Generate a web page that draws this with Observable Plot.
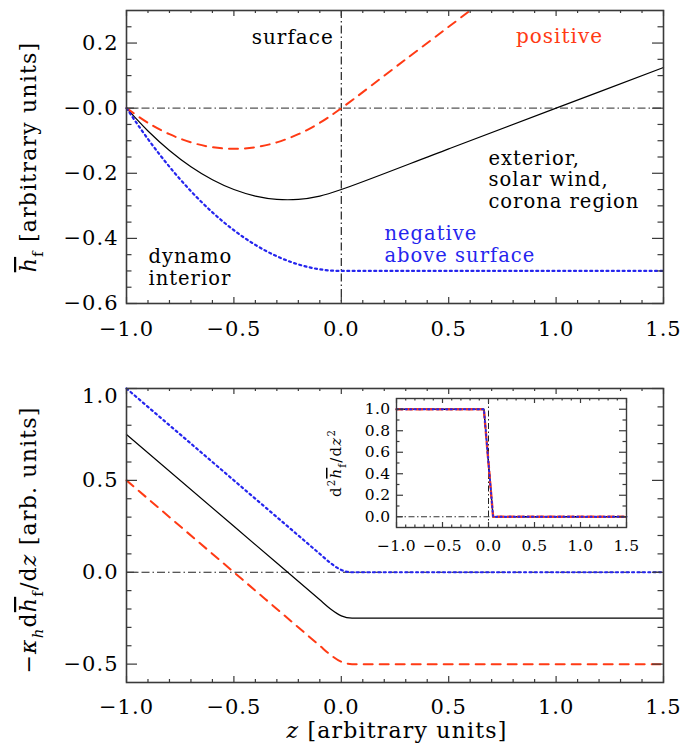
<!DOCTYPE html>
<html><head><meta charset="utf-8">
<script src="https://cdn.jsdelivr.net/npm/d3@7"></script>
<script src="https://cdn.jsdelivr.net/npm/@observablehq/plot@0.6"></script>
<style>
html,body{margin:0;padding:0;background:#fff;}
#wrap{position:relative;width:699px;height:751px;overflow:hidden;background:#fff;}
</style></head><body><div id="wrap"></div>
<script>
// ---------- data ----------
// top panel: mean magnetic helicity profile h_f(z)
const topZ      = [-1.0,-0.9,-0.8,-0.7,-0.6,-0.5,-0.4,-0.3,-0.2,-0.1,0.0,0.5,1.0,1.5];
const hBlack    = [0.0,-0.07,-0.13,-0.18,-0.22,-0.25,-0.27,-0.28,-0.28,-0.27,-0.25,-0.125,0.0,0.125];
const hBlue     = [0.0,-0.095,-0.18,-0.255,-0.32,-0.375,-0.42,-0.455,-0.48,-0.495,-0.5,-0.5,-0.5,-0.5];
const topRedZ   = [-1.0,-0.9,-0.8,-0.7,-0.6,-0.5,-0.4,-0.3,-0.2,-0.1,0.0,0.3,0.6];
const hRed      = [0.0,-0.045,-0.08,-0.105,-0.12,-0.125,-0.12,-0.105,-0.08,-0.045,0.0,0.15,0.3];
// bottom panel: flux -kappa_h dh_f/dz
const botZ      = [-1.0,-0.5,-0.1,-0.05,0.0,0.05,0.1,1.5];
const fBlack    = [0.75,0.25,-0.15,-0.2,-0.2375,-0.25,-0.25,-0.25];
const fRed      = [0.5,0.0,-0.4,-0.45,-0.4875,-0.5,-0.5,-0.5];
const fBlue     = [1.0,0.5,0.1,0.05,0.0125,0.0,0.0,0.0];
// inset: second derivative
const insZ      = [-1.0,-0.05,0.05,1.5];
const d2Black   = [1.0,1.0,0.0,0.0];
const d2Red     = [1.0,1.0,0.0,0.0];
const d2Blue    = [1.0,1.0,0.0,0.0];
// ticks
const xMajor    = [-1.0,-0.5,0.0,0.5,1.0,1.5];
const xLabels   = ["\u22121.0","\u22120.5","0.0","0.5","1.0","1.5"];
const xMinor    = [-0.9,-0.8,-0.7,-0.6,-0.4,-0.3,-0.2,-0.1,0.1,0.2,0.3,0.4,0.6,0.7,0.8,0.9,1.1,1.2,1.3,1.4];
const topYMajor = [-0.6,-0.4,-0.2,0.0,0.2];
const topYLabels= ["\u22120.6","\u22120.4","\u22120.2","\u22120.0","0.2"];
const topYMinor = [-0.55,-0.5,-0.45,-0.35,-0.3,-0.25,-0.15,-0.1,-0.05,0.05,0.1,0.15,0.25];
const botYMajor = [-0.5,0.0,0.5,1.0];
const botYLabels= ["\u22120.5","0.0","0.5","1.0"];
const botYMinor = [-0.4,-0.3,-0.2,-0.1,0.1,0.2,0.3,0.4,0.6,0.7,0.8,0.9];
const insYMajor = [0.0,0.2,0.4,0.6,0.8,1.0];
const insYLabels= ["0.0","0.2","0.4","0.6","0.8","1.0"];
const insYMinor = [0.1,0.3,0.5,0.7,0.9];
// annotations
const annSurface  = ["surface"];
const annPositive = ["positive"];
const annExterior = ["exterior,\nsolar wind,\ncorona region"];
const annNegative = ["negative\nabove surface"];
const annDynamo   = ["dynamo\ninterior"];

// ---------- helpers ----------
const FONT = '"DejaVu Serif", "Liberation Serif", serif';
const RED = "#ff3a14", BLUE = "#2525ee", FRAME = "#3a3a3a";
const DASHDOT = "8,3,1.5,3";
const pts = (xs, ys) => xs.map((x, i) => ({x, y: ys[i]}));
const fmt = (majors, labels) => { const m = new Map(majors.map((v,i)=>[v,labels[i]])); return d => m.get(d); };

function tickMarks(FW, FH, xMaj, xMin, yMaj, yMin, xl, yl) {
  // inward ticks on all four sides
  const o = {stroke: FRAME, strokeWidth: 1.2};
  return [
    Plot.tickX(xMaj, {x: d=>d, insetTop: FH - xl, ...o}),
    Plot.tickX(xMaj, {x: d=>d, insetBottom: FH - xl, ...o}),
    Plot.tickX(xMin, {x: d=>d, insetTop: FH - xl/2, ...o}),
    Plot.tickX(xMin, {x: d=>d, insetBottom: FH - xl/2, ...o}),
    Plot.tickY(yMaj, {y: d=>d, insetRight: FW - yl, ...o}),
    Plot.tickY(yMaj, {y: d=>d, insetLeft: FW - yl, ...o}),
    Plot.tickY(yMin, {y: d=>d, insetRight: FW - yl/2, ...o}),
    Plot.tickY(yMin, {y: d=>d, insetLeft: FW - yl/2, ...o})
  ];
}

const wrap = document.getElementById("wrap");
function place(el, left, top) {
  el.style.position = "absolute"; el.style.left = left + "px"; el.style.top = top + "px";
  wrap.appendChild(el);
}

// ---------- top panel ----------
{
  const W = 699, H = 345, mL = 126, mR = 36, mT = 10, mB = 42;
  const FW = W - mL - mR, FH = H - mT - mB;
  const p = Plot.plot({
    width: W, height: H, marginLeft: mL, marginRight: mR, marginTop: mT, marginBottom: mB,
    x: {domain: [-1, 1.5]}, y: {domain: [-0.6, 0.3]},
    style: {fontFamily: FONT, fontSize: "21px", background: "transparent", overflow: "visible", letterSpacing: "1px"},
    marks: [
      Plot.ruleY([0], {stroke: "#555", strokeWidth: 1.2, strokeDasharray: DASHDOT}),
      Plot.ruleX([0], {stroke: "#222", strokeWidth: 1.2, strokeDasharray: DASHDOT}),
      Plot.line(pts(topZ, hBlack), {x: "x", y: "y", stroke: "black", strokeWidth: 1.2, curve: "catmull-rom"}),
      Plot.line(pts(topRedZ, hRed), {x: "x", y: "y", stroke: RED, strokeWidth: 2, strokeDasharray: "9,7", curve: "catmull-rom"}),
      Plot.line(pts(topZ, hBlue), {x: "x", y: "y", stroke: BLUE, strokeWidth: 2.2, strokeDasharray: "2,3.4", curve: "monotone-x"}),
      ...tickMarks(FW, FH, xMajor, xMinor, topYMajor, topYMinor, 6, 11),
      Plot.frame({stroke: FRAME, strokeWidth: 1.6}),
      Plot.axisX(xMajor, {tickSize: 0, tickPadding: 18, tickFormat: fmt(xMajor, xLabels), label: null}),
      Plot.axisY(topYMajor, {tickSize: 0, tickPadding: 8, tickFormat: fmt(topYMajor, topYLabels), label: null}),
      Plot.text(annSurface, {x: -0.035, y: 0.217, text: d=>d, textAnchor: "end", fill: "black", fontSize: 20}),
      Plot.text(annPositive, {x: 1.016, y: 0.22, text: d=>d, textAnchor: "middle", fill: RED, fontSize: 20}),
      Plot.text(annExterior, {x: 0.685, y: -0.219, text: d=>d, textAnchor: "start", fill: "black", fontSize: 19.5, lineHeight: 1.12}),
      Plot.text(annNegative, {x: 0.201, y: -0.416, text: d=>d, textAnchor: "start", fill: BLUE, fontSize: 19.5, lineHeight: 1.13}),
      Plot.text(annDynamo, {x: -0.898, y: -0.488, text: d=>d, textAnchor: "start", fill: "black", fontSize: 19.5, lineHeight: 1.1})
    ]
  });
  place(p, 0, 0);
}

// ---------- bottom panel ----------
{
  const W = 699, H = 406, mL = 126, mR = 36, mT = 43, mB = 69;
  const FW = W - mL - mR, FH = H - mT - mB;
  const yFmt = fmt(botYMajor, botYLabels);
  const p = Plot.plot({
    width: W, height: H, marginLeft: mL, marginRight: mR, marginTop: mT, marginBottom: mB,
    x: {domain: [-1, 1.5]}, y: {domain: [-0.6, 1.0]},
    style: {fontFamily: FONT, fontSize: "21px", background: "transparent", overflow: "visible", letterSpacing: "1px"},
    marks: [
      Plot.ruleY([0], {stroke: "#222", strokeWidth: 1.2, strokeDasharray: DASHDOT}),
      Plot.line(pts(botZ, fBlack), {x: "x", y: "y", stroke: "black", strokeWidth: 1.2, curve: "monotone-x"}),
      Plot.line(pts(botZ, fRed), {x: "x", y: "y", stroke: RED, strokeWidth: 2, strokeDasharray: "9,7", curve: "monotone-x"}),
      Plot.line(pts(botZ, fBlue), {x: "x", y: "y", stroke: BLUE, strokeWidth: 2.2, strokeDasharray: "2,3.4", curve: "monotone-x"}),
      ...tickMarks(FW, FH, xMajor, xMinor, botYMajor, botYMinor, 6, 11),
      Plot.frame({stroke: FRAME, strokeWidth: 1.6}),
      Plot.axisX(xMajor, {tickSize: 0, tickPadding: 17, tickFormat: fmt(xMajor, xLabels), label: null}),
      Plot.axisY(botYMajor.filter(v => v < 1), {tickSize: 0, tickPadding: 8, tickFormat: yFmt, label: null}),
      Plot.axisY(botYMajor.filter(v => v >= 1), {tickSize: 0, tickPadding: 8, tickFormat: yFmt, label: null, dy: 8})
    ]
  });
  place(p, 0, 345);
}

// ---------- inset ----------
{
  const W = 300, H = 180, mL = 56, mR = 14, mT = 18, mB = 33;
  const FW = W - mL - mR, FH = H - mT - mB;
  const p = Plot.plot({
    width: W, height: H, marginLeft: mL, marginRight: mR, marginTop: mT, marginBottom: mB,
    x: {domain: [-1, 1.5]}, y: {domain: [-0.1, 1.1]},
    style: {fontFamily: FONT, fontSize: "15.5px", background: "transparent", overflow: "visible", letterSpacing: "0.4px"},
    marks: [
      Plot.ruleY([0], {stroke: "#333", strokeWidth: 1, strokeDasharray: "6,2.5,1.5,2.5"}),
      Plot.ruleX([0], {stroke: "#222", strokeWidth: 1, strokeDasharray: "6,2.5,1.5,2.5"}),
      Plot.line(pts(insZ, d2Black), {x: "x", y: "y", stroke: "black", strokeWidth: 1.4}),
      Plot.line(pts(insZ, d2Red), {x: "x", y: "y", stroke: RED, strokeWidth: 2.4, strokeDasharray: "6,4"}),
      Plot.line(pts(insZ, d2Blue), {x: "x", y: "y", stroke: BLUE, strokeWidth: 1.8, strokeDasharray: "1.5,3"}),
      ...tickMarks(FW, FH, xMajor, xMinor, insYMajor, insYMinor, 5, 7),
      Plot.frame({stroke: FRAME, strokeWidth: 1.4}),
      Plot.axisX(xMajor, {tickSize: 0, tickPadding: 12, tickFormat: fmt(xMajor, xLabels), label: null}),
      Plot.axisY(insYMajor, {tickSize: 0, tickPadding: 6, tickFormat: fmt(insYMajor, insYLabels), label: null})
    ]
  });
  place(p, 340, 380);
}

// ---------- axis titles (rich text) ----------
const ov = d3.select("#wrap").append("svg")
  .attr("width", 699).attr("height", 751)
  .style("position", "absolute").style("left", "0px").style("top", "0px")
  .style("font-family", FONT).style("letter-spacing", "1.2px").style("pointer-events", "none");

function richTitle(x, y, rot, size, parts) {
  const t = ov.append("text")
    .attr("transform", `translate(${x},${y}) rotate(${rot})`)
    .attr("text-anchor", "middle").attr("font-size", size).attr("dy", "0.35em").attr("fill", "black");
  let shift = 0;
  for (const p of parts) {
    const s = t.append("tspan").text(p.t);
    let target = 0, fs = size;
    if (p.sub) { target = size * 0.3; fs = size * 0.68; }
    if (p.sup) { target = -size * 0.38; fs = size * 0.68; }
    s.attr("font-size", fs).attr("dy", target - shift);
    shift = target;
    if (p.it) s.attr("font-style", "italic");
    if (p.over) s.style("text-decoration", "overline");
  }
}
richTitle(36, 157, -90, 22, [
  {t: "h", it: true, over: true}, {t: "f", sub: true}, {t: " [arbitrary units]"}
]);
richTitle(36, 540, -90, 22, [
  {t: "\u2212"}, {t: "\u03ba", it: true}, {t: "h", it: true, sub: true}, {t: "d"},
  {t: "h", it: true, over: true}, {t: "f", sub: true}, {t: "/d"}, {t: "z", it: true}, {t: " [arb. units]"}
]);
richTitle(397, 738, 0, 22, [
  {t: "z", it: true}, {t: " [arbitrary units]"}
]);
richTitle(341, 463, -90, 15, [
  {t: "d"}, {t: "2", sup: true}, {t: "h", it: true, over: true}, {t: "f", sub: true}, {t: "/d"}, {t: "z", it: true}, {t: "2", sup: true}
]);
</script>
</body></html>
